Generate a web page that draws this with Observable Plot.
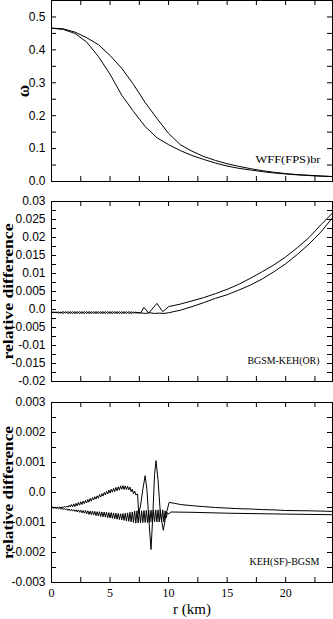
<!DOCTYPE html>
<html><head><meta charset="utf-8">
<script src="https://cdn.jsdelivr.net/npm/d3@7"></script>
<script src="https://cdn.jsdelivr.net/npm/@observablehq/plot@0.6"></script>
<style>
body{margin:0;background:#fff}
#c{width:333px}
#c svg{display:block}
</style>
</head><body><div id="c"></div>
<script>
// ---------- Panel 1: omega ----------
const r1 = [0,1,2,3,4,5,6,7,8,9,10,11,12,13,14,15,16,17,18,19,20,21,22,23,24];
const omegaUpper = [0.466,0.464,0.454,0.437,0.416,0.383,0.344,0.295,0.240,0.192,0.146,0.112,0.092,0.076,0.064,0.054,0.046,0.039,0.033,0.028,0.024,0.021,0.019,0.017,0.015];
const omegaLower = [0.466,0.462,0.450,0.424,0.380,0.326,0.262,0.213,0.167,0.133,0.112,0.094,0.079,0.067,0.056,0.047,0.040,0.035,0.030,0.026,0.023,0.020,0.018,0.016,0.015];
const y1Minor = [0.05,0.1,0.15,0.2,0.25,0.3,0.35,0.4,0.45,0.5];
const y1Values = [0,0.1,0.2,0.3,0.4,0.5];
const y1Labels = ["0.0","0.1","0.2","0.3","0.4","0.5"];

// ---------- Panel 2: BGSM-KEH(OR) ----------
const rA2 = [0,0.2,0.4,0.6,0.8,1,1.2,1.4,1.6,1.8,2,2.2,2.4,2.6,2.8,3,3.2,3.4,3.6,3.8,4,4.2,4.4,4.6,4.8,5,5.2,5.4,5.6,5.8,6,6.2,6.4,6.6,6.8,7,7.2,7.4,
  7.6,7.9,8.3,9.0,9.5,10,11,12,13,14,15,16,17,18,19,20,21,22,23,24];
const vA2 = [-0.0008,-0.0007,-0.0009,-0.0007,-0.0010,-0.0006,-0.0010,-0.0006,-0.0011,-0.0006,-0.0011,-0.0006,-0.0011,-0.0006,-0.0011,-0.0006,-0.0011,-0.0006,-0.0011,-0.0006,-0.0011,-0.0006,-0.0011,-0.0006,-0.0011,-0.0006,-0.0011,-0.0006,-0.0011,-0.0006,-0.0011,-0.0006,-0.0011,-0.0006,-0.0011,-0.0007,-0.0010,-0.0008,
  -0.0010,0.0006,-0.0010,0.0017,-0.0006,0.0008,0.0015,0.0024,0.0033,0.0044,0.0056,0.0070,0.0087,0.0105,0.0124,0.0146,0.0172,0.0200,0.0235,0.0268];
const rB2 = [0,0.2,0.4,0.6,0.8,1,1.2,1.4,1.6,1.8,2,2.2,2.4,2.6,2.8,3,3.2,3.4,3.6,3.8,4,4.2,4.4,4.6,4.8,5,5.2,5.4,5.6,5.8,6,6.2,6.4,6.6,6.8,7,7.2,7.4,
  7.6,8.0,8.4,8.8,9.2,9.6,10,11,12,13,14,15,16,17,18,19,20,21,22,23,24];
const vB2 = [-0.0008,-0.0009,-0.0007,-0.0010,-0.0007,-0.0011,-0.0006,-0.0011,-0.0006,-0.0011,-0.0006,-0.0011,-0.0006,-0.0011,-0.0006,-0.0011,-0.0006,-0.0011,-0.0006,-0.0011,-0.0006,-0.0011,-0.0006,-0.0011,-0.0006,-0.0011,-0.0006,-0.0011,-0.0006,-0.0011,-0.0006,-0.0011,-0.0006,-0.0011,-0.0006,-0.0010,-0.0007,-0.0010,
  -0.0009,-0.0011,-0.0009,-0.0011,-0.0010,-0.0011,-0.0009,-0.0002,0.0008,0.0019,0.0031,0.0041,0.0054,0.0068,0.0085,0.0105,0.0127,0.0153,0.0182,0.0215,0.0255];
const y2Minor = [-0.0175,-0.015,-0.0125,-0.01,-0.0075,-0.005,-0.0025,0,0.0025,0.005,0.0075,0.01,0.0125,0.015,0.0175,0.02,0.0225,0.025,0.0275];
const y2Values = [-0.02,-0.015,-0.01,-0.005,0,0.005,0.01,0.015,0.02,0.025,0.03];
const y2Labels = ["-0.02","-0.015","-0.01","-0.005","0.0","0.005","0.01","0.015","0.02","0.025","0.03"];

// ---------- Panel 3: KEH(SF)-BGSM ----------
const rA3 = [0,0.1,0.2,0.3,0.4,0.5,0.6,0.7,0.8,0.9,1,1.1,1.2,1.3,1.4,1.5,1.6,1.7,1.8,1.9,2,2.1,2.2,2.3,2.4,2.5,2.6,2.7,2.8,2.9,3,3.1,3.2,3.3,3.4,3.5,3.6,3.7,3.8,3.9,4,4.1,4.2,4.3,4.4,4.5,4.6,4.7,4.8,4.9,5,5.1,5.2,5.3,5.4,5.5,5.6,5.7,5.8,5.9,6,6.1,6.2,6.3,6.4,6.5,6.6,6.7,6.8,6.9,7,7.1,7.2,
  7.35,7.45,7.6,7.8,8.0,8.15,8.35,8.5,8.65,8.8,8.93,9.1,9.3,9.55,9.8,10.05,10.5,11,12,13,14,15,16,17,18,19,20,22,24];
const vA3 = [-0.00050,-0.00049,-0.00051,-0.00049,-0.00051,-0.00049,-0.00051,-0.00048,-0.00051,-0.00048,-0.00051,-0.00046,-0.00050,-0.00045,-0.00049,-0.00043,-0.00048,-0.00040,-0.00048,-0.00038,-0.00047,
  -0.00036,-0.00045,-0.00033,-0.00042,-0.00031,-0.00040,-0.00029,-0.00037,-0.00026,-0.00035,
  -0.00023,-0.00032,-0.00020,-0.00029,-0.00017,-0.00025,-0.00014,-0.00022,-0.00011,-0.00019,
  -0.00007,-0.00015,-0.00004,-0.00012,0.00000,-0.00008,0.00004,-0.00005,0.00008,-0.00002,
  0.00011,0.00001,0.00014,0.00003,0.00017,0.00006,0.00019,0.00008,0.00022,0.00011,
  0.00023,0.00010,0.00022,0.00010,0.00021,0.00009,0.00018,0.00003,0.00011,-0.00004,0.00005,-0.00008,
  -0.00005,-0.00070,-0.00045,0.00010,0.00056,0.00010,-0.00110,-0.00190,-0.00080,0.00060,0.00106,0.00040,-0.00070,-0.00126,-0.00070,-0.00033,-0.00036,-0.00040,-0.00044,-0.00047,-0.00050,-0.00052,-0.00054,-0.00055,-0.00057,-0.00058,-0.00060,-0.00061,-0.00063];
const rB3 = [0,0.1,0.2,0.3,0.4,0.5,0.6,0.7,0.8,0.9,1,1.1,1.2,1.3,1.4,1.5,1.6,1.7,1.8,1.9,2,2.1,2.2,2.3,2.4,2.5,2.6,2.7,2.8,2.9,3,3.1,3.2,3.3,3.4,3.5,3.6,3.7,3.8,3.9,4,4.1,4.2,4.3,4.4,4.5,4.6,4.7,4.8,4.9,5,5.1,5.2,5.3,5.4,5.5,5.6,5.7,5.8,5.9,6,6.1,6.2,6.3,6.4,6.5,6.6,6.7,6.8,6.9,7,7.1,7.2,7.3,7.4,7.5,7.6,7.7,7.8,7.9,8,8.1,8.2,8.3,8.4,8.5,8.6,8.7,8.8,8.9,9,9.1,9.2,9.3,9.4,9.5,9.6,9.7,9.8,9.9,10,
  10.2,12,15,20,24];
const vB3 = [-0.00050,-0.00049,-0.00052,-0.00050,-0.00053,-0.00051,-0.00054,-0.00051,-0.00056,-0.00052,-0.00057,
  -0.00053,-0.00058,-0.00054,-0.00060,-0.00055,-0.00061,-0.00056,-0.00062,-0.00057,-0.00063,
  -0.00058,-0.00065,-0.00058,-0.00066,-0.00059,-0.00068,-0.00060,-0.00069,-0.00060,-0.00071,
  -0.00061,-0.00073,-0.00062,-0.00074,-0.00062,-0.00075,-0.00063,-0.00077,-0.00064,-0.00078,
  -0.00064,-0.00080,-0.00065,-0.00081,-0.00065,-0.00082,-0.00066,-0.00084,-0.00067,-0.00085,
  -0.00067,-0.00086,-0.00068,-0.00088,-0.00069,-0.00089,-0.00070,-0.00090,-0.00071,-0.00091,
  -0.00070,-0.00093,-0.00069,-0.00095,-0.00068,-0.00096,-0.00066,-0.00098,-0.00065,-0.00100,
  -0.00062,-0.00102,-0.00061,-0.00101,-0.00061,-0.00101,-0.00061,-0.00100,-0.00060,-0.00100,
  -0.00060,-0.00100,-0.00059,-0.00099,-0.00059,-0.00099,-0.00059,-0.00098,-0.00058,-0.00098,
  -0.00058,-0.00098,-0.00058,-0.00098,-0.00058,-0.00098,-0.00061,-0.00084,-0.00067,-0.00072,
  -0.00065,-0.00066,-0.00069,-0.00072,-0.00074];
const y3Minor = [-0.0025,-0.002,-0.0015,-0.001,-0.0005,0,0.0005,0.001,0.0015,0.002,0.0025];
const y3Values = [-0.003,-0.002,-0.001,0,0.001,0.002,0.003];
const y3Labels = ["-0.003","-0.002","-0.001","0.0","0.001","0.002","0.003"];

// ---------- shared x ----------
const xMinor = [2.5,5,7.5,10,12.5,15,17.5,20,22.5];
const xValues = [0,5,10,15,20];
const xLabels = ["0","5","10","15","20"];
const xTitle = "r (km)";

const W = 333, ML = 51, MR = 1;
const pts = (rs, vs) => rs.map((r, i) => ({r, v: vs[i]}));

function fitText(svg, content, len) {
  svg.querySelectorAll("text").forEach(t => {
    if (t.textContent === content) {
      t.setAttribute("textLength", len);
      t.setAttribute("lengthAdjust", "spacingAndGlyphs");
    }
  });
}

function panel(o) {
  const fh = o.height - o.mt - o.mb;
  const pw = W - ML - MR;
  const yMap = new Map(o.yValues.map((v, i) => [v, o.yLabels[i]]));
  const marks = [
    Plot.frame({stroke: "black"}),
    Plot.tickY(o.yMinor, {y: d => d, insetRight: pw - 5, stroke: "black"}),
    Plot.tickY(o.yMinor, {y: d => d, insetLeft: pw - 5, stroke: "black"}),
    Plot.tickX(xMinor, {x: d => d, insetBottom: fh - 5, stroke: "black"}),
    Plot.tickX(xMinor, {x: d => d, insetTop: fh - 5, stroke: "black"}),
    Plot.axisY(o.yValues, {anchor: "left", tickSize: 0, tickPadding: 6, tickFormat: d => yMap.get(d), fontSize: 12, fontFamily: "Liberation Sans", label: null}),
    ...o.series.map(s => Plot.line(s, {x: "r", y: "v", stroke: "black", strokeWidth: 1})),
    Plot.text([o.note], {frameAnchor: "bottom-right", dx: o.noteDx, dy: o.noteDy, textAnchor: "end", lineAnchor: "middle", fontFamily: "Liberation Serif", fontSize: 11, fill: "black"}),
    Plot.text([o.yTitle], {frameAnchor: "left", dx: o.yTitleDx, rotate: -90, textAnchor: "middle", lineAnchor: "middle", fontFamily: "Liberation Serif", fontWeight: "bold", fontSize: o.yTitleSize, fill: "black"})
  ];
  if (o.showX) {
    const xMap = new Map(xValues.map((v, i) => [v, xLabels[i]]));
    marks.push(Plot.axisX(xValues, {anchor: "bottom", tickSize: 0, tickPadding: 6, tickFormat: d => xMap.get(d), fontSize: 12, fontFamily: "Liberation Serif", label: null}));
    marks.push(Plot.text([xTitle], {frameAnchor: "bottom", dy: 27, textAnchor: "middle", lineAnchor: "middle", fontFamily: "Liberation Serif", fontSize: 15, fill: "black"}));
  }
  const svg = Plot.plot({
    width: W, height: o.height,
    marginLeft: ML, marginRight: MR, marginTop: o.mt, marginBottom: o.mb,
    x: {domain: [0, 24], ...(o.showX ? {} : {axis: null})},
    y: {domain: o.yDomain},
    style: {fontFamily: "Liberation Sans", fontSize: "12px", color: "black", background: "white", overflow: "visible"},
    marks
  });
  fitText(svg, o.note, o.noteLen);
  if (o.yTitleLen) fitText(svg, o.yTitle, o.yTitleLen);
  return svg;
}

const c = document.getElementById("c");
c.append(panel({
  height: 200, mt: 0, mb: 19, yDomain: [0, 0.55],
  yMinor: y1Minor, yValues: y1Values, yLabels: y1Labels,
  series: [pts(r1, omegaUpper), pts(r1, omegaLower)],
  note: "WFF(FPS)br", noteLen: 65, noteDx: -12, noteDy: -22,
  yTitle: "ω", yTitleDx: -28, yTitleSize: 17
}));
c.append(panel({
  height: 200, mt: 1, mb: 19, yDomain: [-0.02, 0.03],
  yMinor: y2Minor, yValues: y2Values, yLabels: y2Labels,
  series: [pts(rA2, vA2), pts(rB2, vB2)],
  note: "BGSM-KEH(OR)", noteLen: 72, noteDx: -13, noteDy: -21,
  yTitle: "relative difference", yTitleDx: -43, yTitleSize: 14, yTitleLen: 136
}));
c.append(panel({
  height: 219, mt: 2, mb: 37, yDomain: [-0.003, 0.003],
  yMinor: y3Minor, yValues: y3Values, yLabels: y3Labels,
  series: [pts(rA3, vA3), pts(rB3, vB3)],
  note: "KEH(SF)-BGSM", noteLen: 70, noteDx: -13, noteDy: -21,
  yTitle: "relative difference", yTitleDx: -43, yTitleSize: 14, yTitleLen: 133, showX: true
}));
</script></body></html>
